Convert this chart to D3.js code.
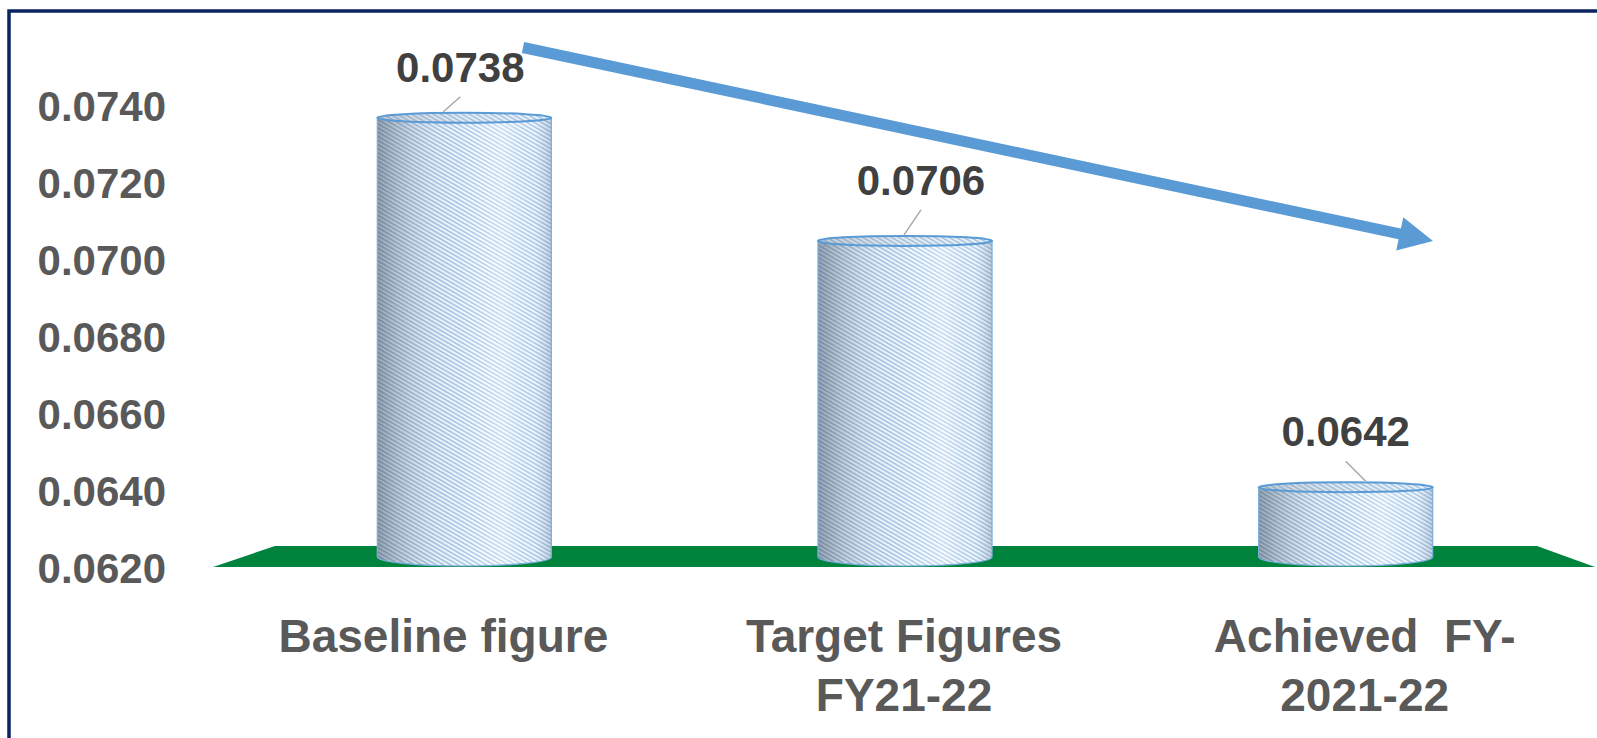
<!DOCTYPE html>
<html>
<head>
<meta charset="utf-8">
<script src="https://cdn.jsdelivr.net/npm/d3@7"></script>
<style>
  html, body { margin: 0; padding: 0; background: #ffffff; }
  svg { display: block; }
  text { font-family: "Liberation Sans", Arial, sans-serif; font-weight: bold; white-space: pre; }
</style>
</head>
<body>
<svg id="chart" width="1597" height="738"></svg>
<script>
// ---- data ----
const categories = ["Baseline figure", "Target Figures FY21-22", "Achieved  FY-2021-22"];
const categoryLines = [["Baseline figure"], ["Target Figures", "FY21-22"], ["Achieved  FY-", "2021-22"]];
const values = [0.0738, 0.0706, 0.0642];
const yTicks = [0.0620, 0.0640, 0.0660, 0.0680, 0.0700, 0.0720, 0.0740];
const yDomain = [0.0620, 0.0740];

// ---- layout ----
const W = 1597, H = 738;
const svg = d3.select("#chart");

const y = d3.scaleLinear().domain(yDomain).range([569, 107]);
// the floor is drawn in perspective: front edge wider than back edge
const xFront = d3.scaleBand().domain(categories).range([213, 1595]);
const xBack = d3.scaleBand().domain(categories).range([275, 1537]);
const xMid = d3.scaleBand().domain(categories).range([244, 1566]);
const barWidth = xMid.bandwidth() * 0.395;

const floorFront = y(yDomain[0]) - 2;
const floorBack = floorFront - 21;

// ---- defs: hatch pattern and cylinder shading ----
const defs = svg.append("defs");
const pat = defs.append("pattern")
  .attr("id", "hatch")
  .attr("patternUnits", "userSpaceOnUse")
  .attr("width", 8).attr("height", 3.6)
  .attr("patternTransform", "rotate(30)");
pat.append("rect").attr("width", 8).attr("height", 3.6).attr("fill", "#f6faff");
pat.append("line").attr("x1", 0).attr("x2", 8).attr("y1", 1).attr("y2", 1)
  .attr("stroke", "#78abdc").attr("stroke-width", 1.1);

const shade = defs.append("linearGradient").attr("id", "shade")
  .attr("x1", 0).attr("x2", 1).attr("y1", 0).attr("y2", 0);
[[0, "rgba(60,75,92,0.50)"], [0.12, "rgba(80,95,112,0.32)"], [0.35, "rgba(150,165,180,0.10)"],
 [0.55, "rgba(255,255,255,0.12)"], [0.72, "rgba(255,255,255,0.40)"], [0.9, "rgba(220,232,244,0.15)"],
 [1, "rgba(90,110,135,0.30)"]]
  .forEach(([o, c]) => shade.append("stop").attr("offset", o).attr("stop-color", c));

const capShade = defs.append("linearGradient").attr("id", "capShade")
  .attr("x1", 0).attr("x2", 1).attr("y1", 0).attr("y2", 0);
[[0, "rgba(120,130,140,0.40)"], [0.5, "rgba(170,180,190,0.20)"], [1, "rgba(200,210,220,0.15)"]]
  .forEach(([o, c]) => capShade.append("stop").attr("offset", o).attr("stop-color", c));

// ---- frame ----
svg.append("rect").attr("x", 9).attr("y", 11).attr("width", W + 40).attr("height", H + 40)
  .attr("fill", "none").attr("stroke", "#0b2460").attr("stroke-width", 3.5);

// ---- floor ----
svg.append("polygon")
  .attr("points", [
    [xFront.range()[0], floorFront], [xBack.range()[0], floorBack],
    [xBack.range()[1], floorBack], [xFront.range()[1], floorFront]
  ].map(p => p.join(",")).join(" "))
  .attr("fill", "#00843d");

// ---- y axis labels ----
const yAxis = d3.axisLeft(y).tickValues(yTicks).tickFormat(d3.format(".4f")).tickSize(0).tickPadding(0);
const gy = svg.append("g").attr("transform", "translate(166,0)").call(yAxis);
gy.select(".domain").remove();
gy.selectAll("text").attr("font-size", 42).attr("fill", "#595959")
  .attr("font-family", "'Liberation Sans', Arial, sans-serif").attr("font-weight", "bold");

// ---- cylinders ----
const baseCy = y(yDomain[0]) - 12, ryB = 9, ryT = 5;
const bars = svg.append("g").selectAll("g").data(values).join("g");

bars.each(function (v, i) {
  const g = d3.select(this);
  const cx = xMid(categories[i]) + xMid.bandwidth() / 2;
  const rx = barWidth / 2;
  const x0 = cx - rx, x1 = cx + rx;
  const topCy = y(v) + 3;
  const body = `M${x0},${topCy} V${baseCy} A${rx},${ryB} 0 0 0 ${x1},${baseCy} V${topCy} Z`;
  g.append("path").attr("d", body).attr("fill", "url(#hatch)");
  g.append("path").attr("d", body).attr("fill", "url(#shade)")
    .attr("stroke", "#7aaedc").attr("stroke-width", 1.2);
  g.append("ellipse").attr("cx", cx).attr("cy", topCy).attr("rx", rx).attr("ry", ryT)
    .attr("fill", "url(#hatch)");
  g.append("ellipse").attr("cx", cx).attr("cy", topCy).attr("rx", rx).attr("ry", ryT)
    .attr("fill", "url(#capShade)").attr("stroke", "#5b9bd5").attr("stroke-width", 2);
});

// ---- data labels with leader lines ----
const labelShift = [-4, 16, 0];
const labelRaise = [33, 43, 38];
const leaderSlant = [-17, -17, 20];
bars.each(function (v, i) {
  const g = d3.select(this);
  const cx = xMid(categories[i]) + xMid.bandwidth() / 2;
  const lx = cx + labelShift[i];
  const base = y(v) - labelRaise[i];
  g.append("line")
    .attr("x1", lx).attr("y1", base + 15)
    .attr("x2", lx + leaderSlant[i]).attr("y2", y(v) - 3)
    .attr("stroke", "#a6a6a6").attr("stroke-width", 1.4);
  g.append("text").attr("x", lx).attr("y", base)
    .attr("text-anchor", "middle").attr("font-size", 42).attr("fill", "#404040")
    .text(d3.format(".4f")(v));
});

// ---- category labels ----
svg.append("g").selectAll("text").data(categories).join("text")
  .attr("text-anchor", "middle")
  .attr("font-size", 46)
  .attr("fill", "#595959")
  .attr("transform", d => `translate(${xFront(d) + xFront.bandwidth() / 2},652)`)
  .each(function (d, i) {
    d3.select(this).selectAll("tspan").data(categoryLines[i]).join("tspan")
      .attr("x", 0).attr("y", (t, j) => j * 59).text(t => t);
  });

// ---- trend arrow ----
const a0 = [523, 47.5], a1 = [1433, 241];
const dx = a1[0] - a0[0], dy = a1[1] - a0[1], len = Math.hypot(dx, dy);
const ux = dx / len, uy = dy / len, nx = -uy, ny = ux;
const shaftHalf = 5.5, headHalf = 17, headLen = 34;
const hb = [a1[0] - ux * headLen, a1[1] - uy * headLen];
const arrowPts = [
  [a0[0] + nx * shaftHalf, a0[1] + ny * shaftHalf],
  [hb[0] + nx * shaftHalf, hb[1] + ny * shaftHalf],
  [hb[0] + nx * headHalf, hb[1] + ny * headHalf],
  a1,
  [hb[0] - nx * headHalf, hb[1] - ny * headHalf],
  [hb[0] - nx * shaftHalf, hb[1] - ny * shaftHalf],
  [a0[0] - nx * shaftHalf, a0[1] - ny * shaftHalf]
];
svg.append("polygon").attr("points", arrowPts.map(p => p.join(",")).join(" "))
  .attr("fill", "#5b9bd5");
</script>
</body>
</html>
